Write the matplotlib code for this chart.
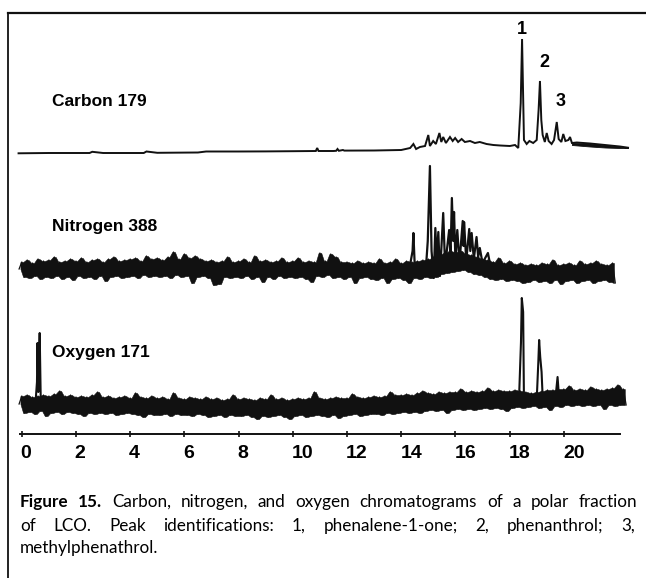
import numpy as np
import matplotlib
matplotlib.use("Agg")
import matplotlib.pyplot as plt
from matplotlib import font_manager as fm
from matplotlib.lines import Line2D
from matplotlib.transforms import blended_transform_factory

# ---------------- data ----------------
time_ticks = [0, 2, 4, 6, 8, 10, 12, 14, 16, 18, 20]
trace_names = ["Carbon 179", "Nitrogen 388", "Oxygen 171"]
peak_ids = ["1", "2", "3"]
peak_times = [18.46, 19.12, 19.74]

# Carbon 179 trace (time in min, response in arbitrary units)
carbon_t = [-0.12, 1.0, 2.5, 2.6, 3.0, 4.5, 4.6, 5.0, 6.5, 6.8, 8.0, 9.0, 10.0, 10.85, 10.9, 10.95,
            11.5, 11.6, 11.65, 11.7, 11.85, 11.9, 13.0, 14.0, 14.33, 14.45, 14.55, 14.69, 14.88,
            15.0, 15.06, 15.18, 15.28, 15.41, 15.48, 15.55, 15.65, 15.8, 15.9, 15.99, 16.1,
            16.23, 16.35, 16.54, 16.72, 16.9, 17.15, 17.4, 17.65, 18.01, 18.2, 18.32, 18.41,
            18.46, 18.53, 18.63, 18.73, 18.87, 19.0, 19.07, 19.12, 19.17, 19.22, 19.3, 19.37,
            19.44, 19.55, 19.64, 19.74, 19.81, 19.91, 19.98, 20.06, 20.17, 20.23, 20.3, 20.48,
            20.97, 21.52, 22.07, 22.37]
carbon_v = [-0.3, 0.0, 0.0, 1.2, 0.0, 0.0, 1.5, 0.2, 0.5, 1.5, 1.5, 1.6, 1.8, 2.0, 5.0, 2.0,
            2.0, 2.2, 4.0, 2.2, 3.0, 2.4, 2.5, 3.0, 5.0, 9.0, 4.0, 6.0, 7.0,
            18.0, 7.0, 12.0, 9.0, 20.0, 11.0, 16.0, 10.0, 16.0, 12.0, 15.0, 11.0,
            14.0, 11.0, 12.0, 10.0, 11.0, 9.0, 8.0, 7.5, 7.0, 8.0, 5.0, 50.0,
            114.0, 13.0, 9.0, 12.0, 10.0, 13.0, 43.0, 72.0, 33.0, 18.0, 11.0, 20.0,
            12.0, 9.0, 13.0, 31.0, 14.0, 11.0, 19.0, 12.0, 13.0, 16.0, 10.0, 10.5,
            9.5, 8.0, 6.5, 5.3]
carbon_tail_t = [20.3, 20.97, 21.52, 22.07, 22.37]
carbon_tail_lo = [8.0, 6.5, 5.5, 5.0, 5.0]

# noise traces sampled every 0.1 min starting at -0.1 min
NOISE_T0, NOISE_DT = -0.1, 0.1
nitro_noise = [2,
    9, -6, 11, -7, 8, -5, 12, -8, 10, -6,
    11, -7, 14, -5, 9, -8, 10, -6, 12, -9,
    10, -5, 13, -7, 9, -6, 11, -8, 12, -5,
    9, -10, 12, -6, 14, -5, 10, -7, 11, -6,
    12, -5, 13, -7, 10, -4, 15, -6, 12, -5,
    13, -6, 11, -5, 14, -7, 19, -4, 12, -6,
    17, -5, 13, -12, 15, -6, 12, -5, 10, -7,
    11, -14, 9, -13, 10, -6, 14, -7, 9, -6,
    10, -7, 12, -5, 9, -8, 15, -6, 10, -11,
    11, -6, 9, -8, 10, -5, 13, -7, 9, -6,
    10, -7, 13, -6, 9, -8, 10, -11, 9, -5,
    18, -6, 10, -4, 17, -7, 14, -6, 9, -8,
    9, -6, 8, -12, 10, -7, 8, -6, 9, -8,
    8, -9, 12, -7, 8, -12, 9, -8, 12, -7,
    8, -9, 10, -12, 9, -7, 10, -8, 11, -6,
    12, -7, 14, -6, 16, -3, 18, -2, 20, -1,
    19, 0, 20, 1, 17, -1, 16, -3, 14, -4,
    12, -6, 11, -8, 9, -9, 13, -8, 8, -10,
    10, -9, 7, -10, 8, -12, 6, -11, 7, -9,
    6, -11, 8, -10, 7, -12, 11, -9, 6, -13,
    7, -10, 8, -9, 6, -12, 10, -10, 7, -9,
    8, -12, 10, -10, 7, -9, 6, -11, 8, -12]
nitro_peak_t = [14.3, 14.42, 14.45, 14.5, 14.6, 14.9, 14.98, 15.06, 15.12, 15.2, 15.26, 15.31,
                15.37, 15.43, 15.55, 15.62, 15.77, 15.82, 15.87, 15.92, 15.95, 16.0, 16.07,
                16.15, 16.27, 16.3, 16.32, 16.4, 16.51, 16.55, 16.6, 16.68, 16.78, 16.84,
                16.9, 17.0, 17.2, 17.3, 17.4]
nitro_peak_v = [2, 20, 38, 5, -4, -2, 30, 105, 20, -7, 43, 10,
                39, -5, 58, 5, 41, 15, 73, 30, 59, 12, 41,
                8, 50, 25, 49, 10, 42, 20, 38, 12, 34, 14,
                23, 8, 18, 4, 8]

oxy_noise = [-2,
    6, -11, 7, -10, 5, -12, 6, -9, 7, -14,
    6, -11, 8, -10, 11, -12, 6, -10, 7, -11,
    5, -12, 6, -14, 5, -11, 7, -12, 10, -11,
    5, -12, 6, -11, 4, -13, 5, -12, 6, -11,
    4, -12, 9, -13, 5, -15, 4, -12, 6, -13,
    4, -13, 5, -12, 3, -14, 9, -12, 4, -13,
    3, -13, 5, -14, 4, -12, 3, -13, 5, -15,
    3, -14, 4, -13, 2, -15, 3, -13, 7, -14,
    3, -14, 4, -13, 3, -15, 2, -17, 4, -14,
    3, -15, 7, -14, 3, -13, 4, -15, 2, -17,
    3, -14, 4, -13, 3, -15, 4, -14, 10, -13,
    4, -14, 3, -15, 4, -13, 5, -16, 4, -14,
    4, -13, 8, -12, 5, -14, 4, -13, 5, -12,
    6, -12, 5, -13, 6, -11, 10, -12, 7, -11,
    7, -10, 8, -11, 7, -10, 9, -11, 11, -9,
    9, -8, 8, -9, 10, -8, 9, -11, 10, -8,
    10, -7, 13, -8, 10, -7, 11, -8, 10, -7,
    11, -6, 14, -7, 11, -6, 12, -7, 11, -9,
    11, -6, 12, -5, 11, -6, 10, -5, 9, -4,
    10, -6, 11, -5, 12, -8, 12, -4, 13, -5,
    13, -3, 16, -4, 12, -3, 13, -4, 12, -3,
    15, -4, 13, -3, 12, -7, 13, -3, 14, -4,
    17, -3, 13, -3]
oxy_peak_groups_t = [[0.5, 0.56, 0.58, 0.61, 0.64, 0.66, 0.7, 0.8],
                     [18.35, 18.42, 18.45, 18.5, 18.53, 18.6],
                     [19.0, 19.06, 19.09, 19.13, 19.18, 19.22, 19.3],
                     [19.7, 19.77, 19.82]]
oxy_peak_groups_v = [[-3, 20, 59, 10, 50, 69, 0, -4],
                     [5, 60, 104, 90, 0, -4],
                     [2, 40, 62, 45, 30, 5, 8],
                     [6, 25, 6]]

caption_lines = [
    [("Figure", True), ("15.", True), ("Carbon,", False), ("nitrogen,", False), ("and", False),
     ("oxygen", False), ("chromatograms", False), ("of", False), ("a", False), ("polar", False),
     ("fraction", False)],
    [("of", False), ("LCO.", False), ("Peak", False), ("identifications:", False), ("1,", False),
     ("phenalene-1-one;", False), ("2,", False), ("phenanthrol;", False), ("3,", False)],
    [("methylphenathrol.", False)],
]

# ---------------- layout ----------------
W, H = 646, 578
T0_PX, PX_PER_MIN = 21.8, 27.1
XLIM = (-T0_PX / PX_PER_MIN, (W - T0_PX) / PX_PER_MIN)
INK = "#111111"


def pick_font(cands, default="DejaVu Sans"):
    for c in cands:
        try:
            fm.findfont(fm.FontProperties(family=c), fallback_to_default=False)
            return c
        except Exception:
            pass
    return default


HEAD = pick_font(["Liberation Sans", "Arial", "Roboto"])
CAP = pick_font(["Lato", "Open Sans", "Noto Sans"])

fig = plt.figure(figsize=(W / 100, H / 100), dpi=100)
fig.patch.set_facecolor("white")


def px_axes(top, bottom):
    ax = fig.add_axes([0, 1 - bottom / H, 1, (bottom - top) / H])
    ax.set_xlim(XLIM)
    ax.axis("off")
    ax.patch.set_alpha(0)
    return ax


def noisy_trace(ax, values):
    """Dense noise trace: solid band between neighbouring extremes plus the jagged line."""
    v = np.asarray(values, dtype=float)
    t = NOISE_T0 + NOISE_DT * np.arange(len(v))
    hi = np.maximum(v[:-1], v[1:])
    lo = np.minimum(v[:-1], v[1:])
    tm = 0.5 * (t[:-1] + t[1:])
    ax.fill_between(tm, lo, hi, color=INK, lw=0.4)
    ax.plot(t, v, color=INK, lw=0.9)


# border
fig.add_artist(Line2D([8 / W, 1], [1 - 13 / H, 1 - 13 / H], transform=fig.transFigure,
                      color=INK, lw=1.6))
fig.add_artist(Line2D([8 / W, 8 / W], [1 - 13 / H, 0], transform=fig.transFigure,
                      color=INK, lw=1.3))

# ---- Carbon ----
axc = px_axes(15, 170)
axc.set_ylim(153 - 170, 153 - 15)
axc.plot(carbon_t, carbon_v, color=INK, lw=1.4, solid_joinstyle="miter")
axc.fill_between(carbon_tail_t, carbon_tail_lo,
                 np.interp(carbon_tail_t, carbon_t, carbon_v), color=INK, lw=0.6)
label_offsets = [(0, 1), (3, 7), (3, 9)]
for pid, pt, off in zip(peak_ids, peak_times, label_offsets):
    top = max(v for t, v in zip(carbon_t, carbon_v) if abs(t - pt) < 0.05)
    axc.annotate(pid, (pt, top), xytext=off, textcoords="offset points", ha="center",
                 va="bottom", fontsize=13, fontweight="bold", family=HEAD, color="black")

# ---- Nitrogen ----
axn = px_axes(150, 300)
axn.set_ylim(271 - 300, 271 - 150)
noisy_trace(axn, nitro_noise)
axn.plot(nitro_peak_t, nitro_peak_v, color=INK, lw=1.6)

# ---- Oxygen ----
axo = px_axes(280, 425)
axo.set_ylim(402 - 425, 402 - 280)
noisy_trace(axo, oxy_noise)
for gt, gv in zip(oxy_peak_groups_t, oxy_peak_groups_v):
    axo.plot(gt, gv, color=INK, lw=1.5)

# trace names
for name, ypx in zip(trace_names, [101, 226, 352]):
    fig.text(52 / W, 1 - ypx / H, name, ha="left", va="center", fontsize=12.5,
             fontweight="bold", family=HEAD, color="black")

# ---- time axis ----
axt = fig.add_axes([0, 1 - 434.3 / H, 1, 20 / H])
axt.set_xlim(XLIM)
axt.patch.set_alpha(0)
for s in ["top", "left", "right"]:
    axt.spines[s].set_visible(False)
axt.spines["bottom"].set_bounds((20 - T0_PX) / PX_PER_MIN, (620 - T0_PX) / PX_PER_MIN)
axt.spines["bottom"].set_linewidth(1.4)
axt.spines["bottom"].set_color(INK)
axt.set_yticks([])
axt.set_xticks(time_ticks)
axt.set_xticklabels([])
axt.tick_params(axis="x", direction="inout", length=5, width=1.2, color=INK)
tr = blended_transform_factory(axt.transData, fig.transFigure)
for tk in time_ticks:
    off = (4 if tk < 10 else 10) / PX_PER_MIN
    axt.text(tk + off, 1 - 458.3 / H, str(tk), transform=tr, ha="center", va="baseline",
             fontsize=14, fontweight="bold", family=HEAD, color="black")

# ---- caption ----
renderer = fig.canvas.get_renderer()
cap_size = 12.3


def make_texts(parts, size):
    out = []
    for w, b in parts:
        out.append(fig.text(0, 0, w, fontsize=size, family=CAP,
                            fontweight="bold" if b else "normal", va="baseline", ha="left",
                            color="black"))
    return out


probe = fig.text(0, 0, " ".join(w for w, _ in caption_lines[0]), fontsize=cap_size, family=CAP)
pw = probe.get_window_extent(renderer).width
probe.remove()
if pw > 600:
    cap_size = cap_size * 600 / pw

sp = fig.text(0, 0, "a a", fontsize=cap_size, family=CAP)
sp2 = fig.text(0, 0, "aa", fontsize=cap_size, family=CAP)
space_w = sp.get_window_extent(renderer).width - sp2.get_window_extent(renderer).width
sp.remove()
sp2.remove()

for parts, yb, x1, just in zip(caption_lines, [507, 530.7, 553.3], [637, 635, 0],
                               [True, True, False]):
    texts = make_texts(parts, cap_size)
    widths = [t.get_window_extent(renderer).width for t in texts]
    gap = (x1 - 19.8 - sum(widths)) / (len(texts) - 1) if (just and len(texts) > 1) else space_w
    x = 19.8
    for t, w in zip(texts, widths):
        t.set_position((x / W, 1 - yb / H))
        x += w + gap

fig.savefig("out.png", dpi=100, facecolor="white")
